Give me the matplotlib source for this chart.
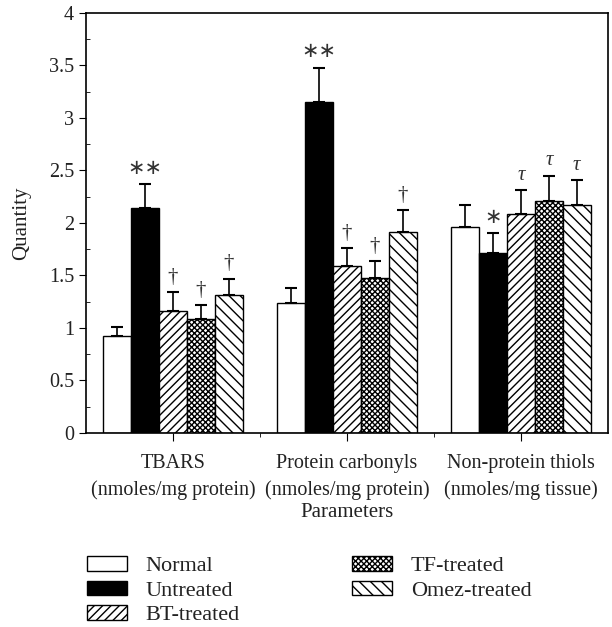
import numpy as np
import matplotlib
matplotlib.use("Agg")
from matplotlib import pyplot as plt
from matplotlib.ticker import FixedLocator

plt.rcParams['font.family'] = ['Liberation Serif', 'DejaVu Serif']
plt.rcParams['hatch.linewidth'] = 1.0

groups = ['TBARS\n(nmoles/mg protein)',
          'Protein carbonyls\n(nmoles/mg protein)',
          'Non-protein thiols\n(nmoles/mg tissue)']
series = ['Normal', 'Untreated', 'BT-treated', 'TF-treated', 'Omez-treated']
ytick_vals = [0, 0.5, 1, 1.5, 2, 2.5, 3, 3.5, 4]
ytick_labels = ['0', '0.5', '1', '1.5', '2', '2.5', '3', '3.5', '4']

normal = [0.92, 1.24, 1.96]
untreated = [2.14, 3.15, 1.71]
bt = [1.16, 1.59, 2.09]
tf = [1.09, 1.48, 2.21]
omez = [1.31, 1.91, 2.17]

normal_err = [0.09, 0.14, 0.21]
untreated_err = [0.23, 0.33, 0.19]
bt_err = [0.18, 0.17, 0.22]
tf_err = [0.13, 0.16, 0.24]
omez_err = [0.16, 0.21, 0.24]

normal_sig = ['', '', '']
untreated_sig = ['∗∗', '∗∗', '∗']
bt_sig = ['†', '†', 'τ']
tf_sig = ['†', '†', 'τ']
omez_sig = ['†', '†', 'τ']

values = [normal, untreated, bt, tf, omez]
errors = [normal_err, untreated_err, bt_err, tf_err, omez_err]
marks = [normal_sig, untreated_sig, bt_sig, tf_sig, omez_sig]
colors = ['white', 'black', 'white', 'white', 'white']
hatches = ['', '', '////', 'xxxxxx', '\\\\\\']

fig = plt.figure(figsize=(6.12, 6.27), dpi=100)
ax = fig.add_axes([0.1405, 0.3094, 0.853, 0.670])

x = np.arange(len(groups))
w = 0.16
for i, s in enumerate(series):
    pos = x + (i - 2) * w
    ax.bar(pos, values[i], w, color=colors[i], edgecolor='black',
           hatch=hatches[i], linewidth=1.0, label=s, zorder=2)
    ax.errorbar(pos, values[i], yerr=[np.zeros(3), errors[i]], fmt='none',
                ecolor='black', elinewidth=1.2, capsize=4, capthick=1.5, zorder=3)
    for j in range(3):
        m = marks[i][j]
        if not m:
            continue
        top = values[i][j] + errors[i][j]
        if m == 'τ':
            ax.text(pos[j], top + 0.05, m, ha='center', va='bottom',
                    fontsize=15, style='italic', color='#333333')
        elif '∗' in m:
            ax.text(pos[j], top + 0.06, m, ha='center', va='bottom',
                    fontsize=15, color='#333333', family='DejaVu Sans')
        else:
            ax.text(pos[j], top + 0.05, m, ha='center', va='bottom',
                    fontsize=15, color='#333333')

ax.set_xlim(-0.5, 2.5)
ax.set_ylim(0, 4)
ax.set_xticks(x)
ax.set_xticklabels(groups, fontsize=14.5, linespacing=1.5, color='#222222')
ax.xaxis.set_minor_locator(FixedLocator([0.5, 1.5]))
ax.set_yticks(ytick_vals)
ax.set_yticklabels(ytick_labels, color='#222222')
ax.yaxis.set_minor_locator(FixedLocator(np.arange(0.25, 4, 0.5)))
ax.tick_params(axis='y', which='major', direction='out', length=5, labelsize=14.5)
ax.tick_params(axis='y', which='minor', direction='in', length=3)
ax.tick_params(axis='x', which='major', direction='out', length=6, pad=9)
ax.tick_params(axis='x', which='minor', direction='out', length=3)
ax.set_ylabel('Quantity', fontsize=15, labelpad=13, color='#222222')
ax.set_xlabel('Parameters', fontsize=15, labelpad=2, color='#222222')
for sp in ax.spines.values():
    sp.set_linewidth(1.2)

leg = fig.legend(loc='upper left', bbox_to_anchor=(0.127, 0.127), ncol=2, frameon=False,
                 fontsize=16, handlelength=1.8, handleheight=0.63, handletextpad=0.85,
                 columnspacing=5.05, labelspacing=0.2, borderaxespad=0)
for t in leg.get_texts():
    t.set_color('#222222')

fig.savefig('out.png', dpi=100)
